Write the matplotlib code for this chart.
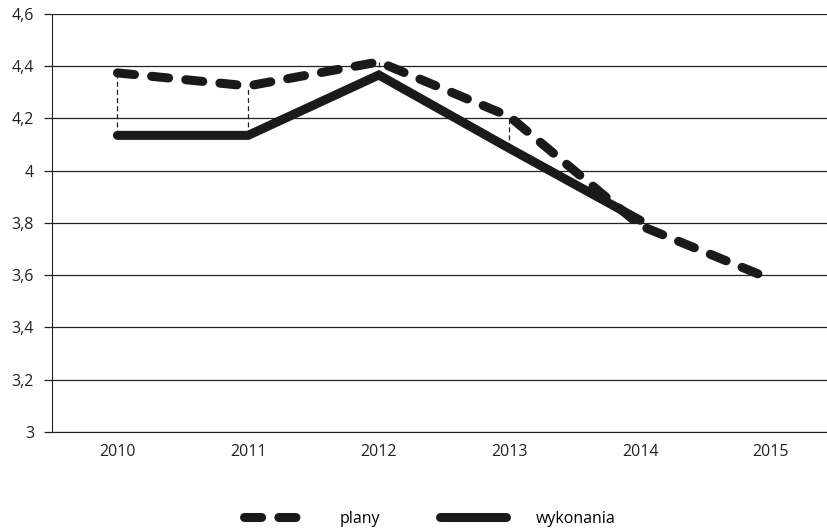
import numpy as np
import matplotlib
matplotlib.use('Agg')
import matplotlib.pyplot as plt

plt.rcParams['font.family'] = ['Open Sans', 'DejaVu Sans']

lata = ['2010', '2011', '2012', '2013', '2014', '2015']
plany = [4.374, 4.324, 4.416, 4.207, 3.79, 3.585]
wykonania = [4.135, 4.135, 4.366, 4.085, 3.81]
y_ticks = [3, 3.2, 3.4, 3.6, 3.8, 4, 4.2, 4.4, 4.6]
y_labels = ['3', '3,2', '3,4', '3,6', '3,8', '4', '4,2', '4,4', '4,6']

fig = plt.figure(figsize=(8.27, 5.32), dpi=100)
ax = fig.add_axes([0.063, 0.188, 0.937, 0.786])

x = np.arange(len(lata))
xw = np.arange(len(wykonania))

# cienkie linie pomiedzy planem a wykonaniem
for i in range(4):
    ax.plot([x[i], x[i]], [wykonania[i], plany[i]], color='#222222', lw=0.9,
            dashes=(4, 2.5), zorder=2)

ax.plot(x, plany, color='#1a1a1a', lw=6.5, dashes=(1.9, 1.9),
        dash_capstyle='round', solid_capstyle='round', label='plany', zorder=3)
ax.plot(xw, wykonania, color='#1a1a1a', lw=6.5, solid_capstyle='round',
        solid_joinstyle='miter', label='wykonania', zorder=3)

ax.set_ylim(3, 4.6)
ax.set_xlim(-0.5, 5.43)
ax.set_yticks(y_ticks)
ax.set_yticklabels(y_labels)
ax.set_xticks(x)
ax.set_xticklabels(lata)
ax.yaxis.grid(True, color='#222222', lw=0.9)
ax.set_axisbelow(True)
for s in ['top', 'right']:
    ax.spines[s].set_visible(False)
ax.spines['left'].set_color('#222222')
ax.spines['bottom'].set_color('#222222')
ax.tick_params(axis='x', length=0, pad=9, labelsize=11.5, colors='#222222')
ax.tick_params(axis='y', length=6, width=0.9, pad=7, labelsize=11.5, colors='#222222')

fig.legend(loc='center', bbox_to_anchor=(0.52, 0.025), ncol=2, frameon=False,
           fontsize=11.5, handlelength=4.1, handletextpad=1.9, columnspacing=3.75)

fig.savefig('out.png', dpi=100)
